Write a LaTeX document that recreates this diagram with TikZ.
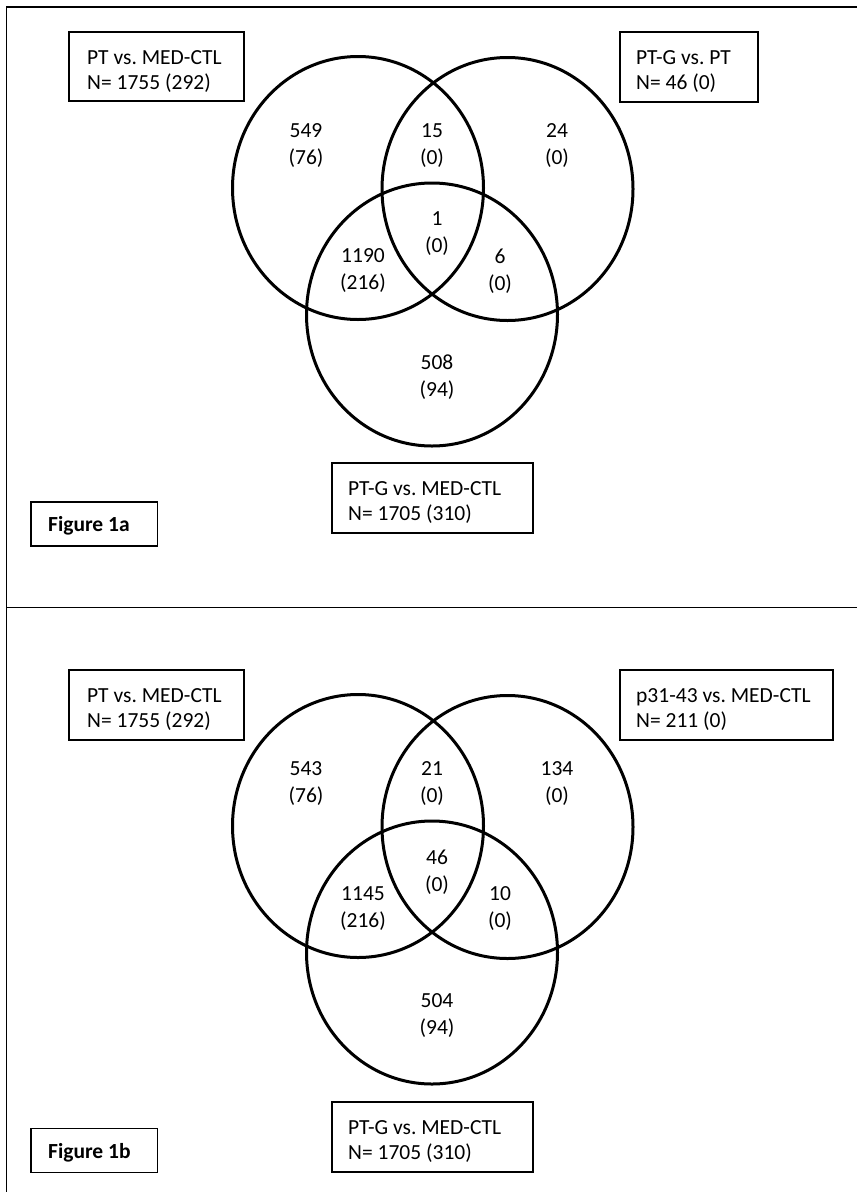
\documentclass[tikz,border=0pt]{standalone}
\usepackage{fontspec}
\setmainfont{Carlito}
\frenchspacing
\usetikzlibrary{shapes.geometric}
\tikzset{
  lblbox/.style={draw=black, line width=1.4pt, inner sep=0pt},
  lbltxt/.style={anchor=west, align=left, inner sep=0pt,
    font=\fontsize{21.5}{25}\selectfont\frenchspacing},
  cnt/.style={align=center, inner sep=0pt, font=\fontsize{21.5}{27}\selectfont},
  venn/.style={draw=black, ellipse, line width=3pt, inner sep=0pt,
    minimum width=251pt, minimum height=263pt},
  framel/.style={line width=1.5pt, draw=black}
}
\begin{document}
\begin{tikzpicture}[x=1pt,y=-1pt]
\useasboundingbox (0,0) rectangle (857,1192);
\clip (0,0) rectangle (857,1192);
\fill[white] (0,0) rectangle (857,1192);
% frame
\coordinate (ftl) at (6.5,7);
\coordinate (ftr) at (870,7);
\coordinate (fbl) at (6.5,1210);
\coordinate (fml) at (6.5,607.5);
\coordinate (fmr) at (870,607.5);
\draw[framel] (fbl) -- (ftl) -- (ftr);
\draw[framel] (fml) -- (fmr);

% ---------- panel a ----------
\node[venn] (aL) at (358,188) {};
\node[venn] (aR) at (507.5,189) {};
\node[venn] (aB) at (432,314.5) {};

\node[lblbox, minimum width=175pt, minimum height=69pt] (aBoxL) at (156.5,66.5) {};
\node[lbltxt] (aTxtL) at (87,71.5) {PT vs. MED-CTL\\N= 1755 (292)};
\node[lblbox, minimum width=138pt, minimum height=70pt] (aBoxR) at (689,67) {};
\node[lbltxt] (aTxtR) at (636,71.5) {PT-G vs. PT\\N= 46 (0)};
\node[lblbox, minimum width=201pt, minimum height=70pt] (aBoxB) at (432.5,498) {};
\node[lbltxt] (aTxtB) at (348,502.5) {PT-G vs. MED-CTL\\N= 1705 (310)};
\node[lblbox, minimum width=126.5pt, minimum height=44pt] (aFig) at (94.25,524) {};
\node[lbltxt, font=\fontsize{21.5}{25}\selectfont\bfseries] (aFigT) at (48,526) {Figure 1a};

\node[cnt] (a1) at (306,146) {549\\(76)};
\node[cnt] (a2) at (432,146) {15\\(0)};
\node[cnt] (a3) at (557,146) {24\\(0)};
\node[cnt] (a4) at (437,234) {1\\(0)};
\node[cnt] (a5) at (363,271) {1190\\(216)};
\node[cnt] (a6) at (500,271) {6\\(0)};
\node[cnt] (a7) at (437,377.5) {508\\(94)};

% ---------- panel b ----------
\node[venn] (bL) at (358,826) {};
\node[venn] (bR) at (507.5,827) {};
\node[venn] (bB) at (432,952.5) {};

\node[lblbox, minimum width=175pt, minimum height=70pt] (bBoxL) at (156.5,705) {};
\node[lbltxt] (bTxtL) at (87,709.5) {PT vs. MED-CTL\\N= 1755 (292)};
\node[lblbox, minimum width=213pt, minimum height=70pt] (bBoxR) at (726.5,705) {};
\node[lbltxt] (bTxtR) at (636,709.5) {p31-43 vs. MED-CTL\\N= 211 (0)};
\node[lblbox, minimum width=201pt, minimum height=70pt] (bBoxB) at (432.5,1137) {};
\node[lbltxt] (bTxtB) at (348,1141.5) {PT-G vs. MED-CTL\\N= 1705 (310)};
\node[lblbox, minimum width=126.5pt, minimum height=44pt] (bFig) at (94.25,1150.5) {};
\node[lbltxt, font=\fontsize{21.5}{25}\selectfont\bfseries] (bFigT) at (48,1152.5) {Figure 1b};

\node[cnt] (b1) at (306,784) {543\\(76)};
\node[cnt] (b2) at (432,784) {21\\(0)};
\node[cnt] (b3) at (557,784) {134\\(0)};
\node[cnt] (b4) at (437,872) {46\\(0)};
\node[cnt] (b5) at (363,909) {1145\\(216)};
\node[cnt] (b6) at (500,909) {10\\(0)};
\node[cnt] (b7) at (437,1015.5) {504\\(94)};
\end{tikzpicture}
\end{document}
